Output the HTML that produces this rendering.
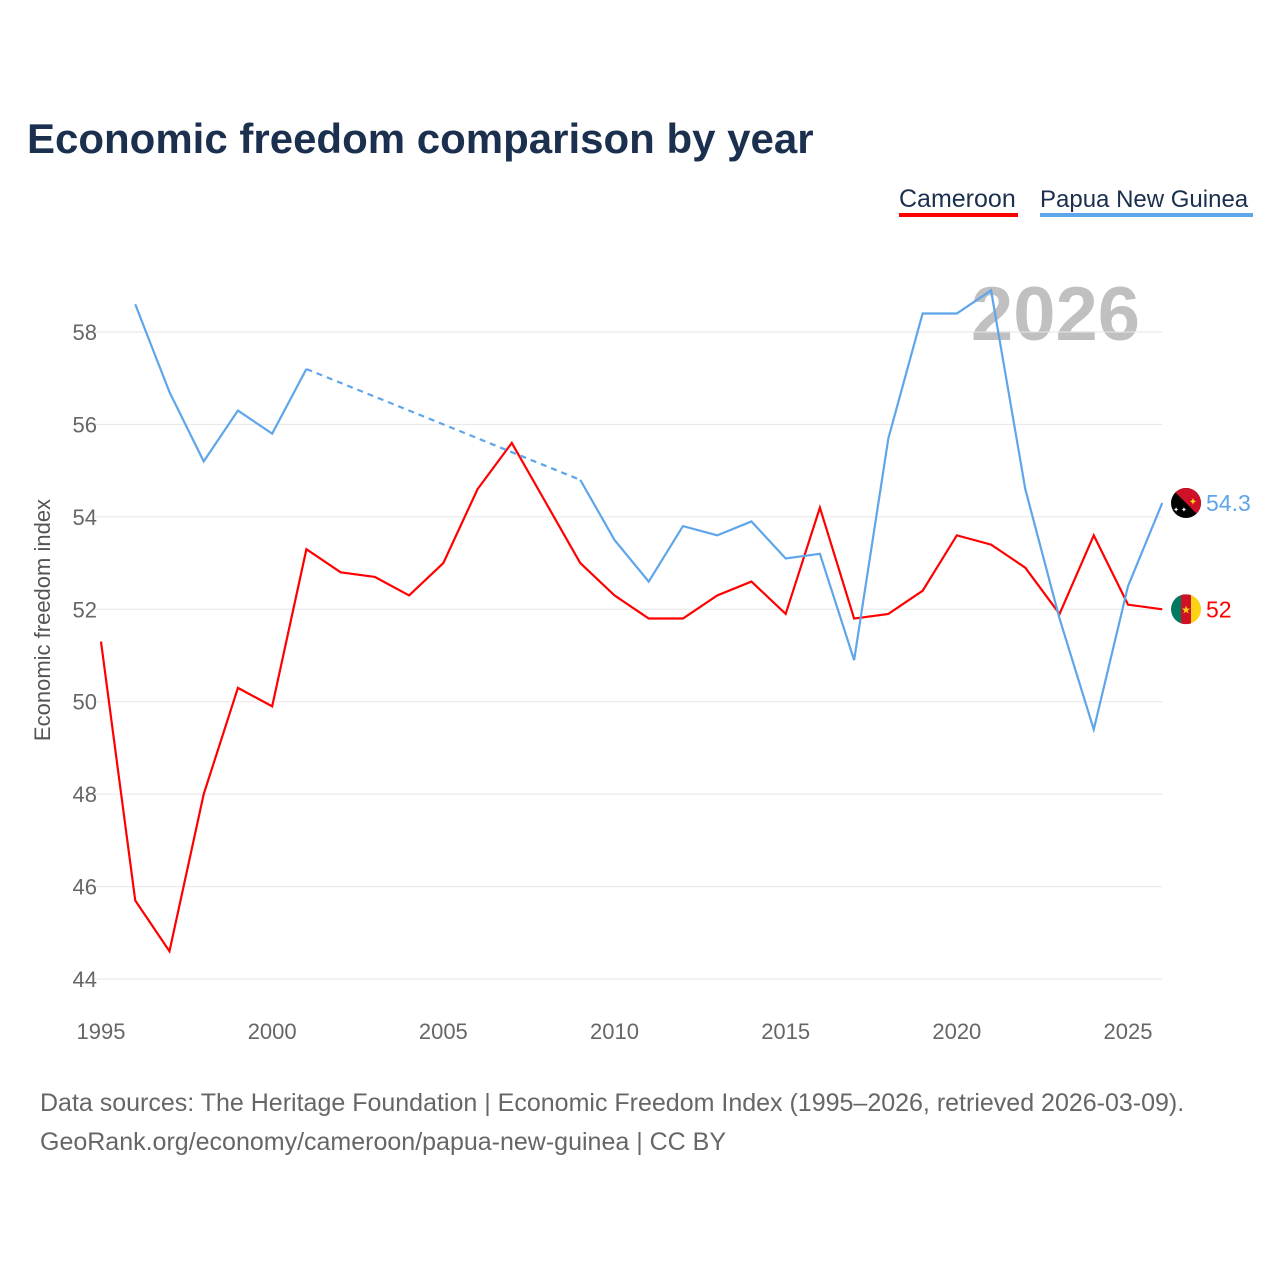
<!DOCTYPE html>
<html><head><meta charset="utf-8"><style>
body{margin:0;background:#fff;width:1280px;height:1280px;overflow:hidden;font-family:"Liberation Sans",sans-serif}
</style></head><body>
<svg width="1280" height="1280" style="position:absolute;left:0;top:0">
<defs>
<clipPath id="c1"><circle id="c1c" cx="1186" cy="0" r="15"/></clipPath>
<clipPath id="c2"><circle id="c2c" cx="1186" cy="0" r="15"/></clipPath>
</defs>
<text x="27" y="153" font-size="42" font-weight="bold" fill="#1b2f4e">Economic freedom comparison by year</text>
<g>
<text x="899" y="207" font-size="25" fill="#1b2f4e">Cameroon</text>
<rect x="899" y="213" width="119" height="4" fill="#ff0000"/>
<text x="1040" y="207" font-size="24" fill="#1b2f4e">Papua New Guinea</text>
<rect x="1040" y="213" width="213" height="4" fill="#5ea5ea"/>
</g>
<text x="1140" y="340" font-size="76" font-weight="bold" fill="#c0c0c0" text-anchor="end">2026</text>
<g id="grid"></g><g id="xt"></g><g id="lines"></g>
<text transform="translate(50,620) rotate(-90)" font-size="22" fill="#555" text-anchor="middle">Economic freedom index</text>
<text x="40" y="1111" font-size="25" fill="#666">Data sources: The Heritage Foundation | Economic Freedom Index (1995–2026, retrieved 2026-03-09).</text>
<text x="40" y="1150" font-size="25" fill="#666">GeoRank.org/economy/cameroon/papua-new-guinea | CC BY</text>
</svg>
<script>
const years=[1995,1996,1997,1998,1999,2000,2001,2002,2003,2004,2005,2006,2007,2008,2009,2010,2011,2012,2013,2014,2015,2016,2017,2018,2019,2020,2021,2022,2023,2024,2025,2026];
const cameroon=[51.3,45.7,44.6,48.0,50.3,49.9,53.3,52.8,52.7,52.3,53.0,54.6,55.6,54.3,53.0,52.3,51.8,51.8,52.3,52.6,51.9,54.2,51.8,51.9,52.4,53.6,53.4,52.9,51.9,53.6,52.1,52.0];
const png=[null,58.6,56.7,55.2,56.3,55.8,57.2,null,null,null,null,null,null,null,54.8,53.5,52.6,53.8,53.6,53.9,53.1,53.2,50.9,55.7,58.4,58.4,58.9,54.6,51.8,49.4,52.5,54.3];
const yTicks=[44,46,48,50,52,54,56,58];
const xTicks=[1995,2000,2005,2010,2015,2020,2025];
const NS='http://www.w3.org/2000/svg';
const X=y=>101+(y-1995)*(1027/30);
const Y=v=>979-(v-44)*(647/14);
function mk(t,a,p){const e=document.createElementNS(NS,t);for(const k in a)e.setAttribute(k,a[k]);p.appendChild(e);return e;}
const grid=document.getElementById('grid'),xt=document.getElementById('xt'),lines=document.getElementById('lines');
yTicks.forEach(v=>{
 const l=mk('line',{x1:95,x2:1162,y1:Y(v),y2:Y(v),stroke:'#e6e6e6','stroke-width':1},grid);
 
 
 const t=mk('text',{x:97,y:Y(v)+8,'font-size':22,fill:'#666','text-anchor':'end'},grid);t.textContent=v;
 
 
});
xTicks.forEach(v=>{
 const t=mk('text',{x:X(v),y:1039,'font-size':22,fill:'#666','text-anchor':'middle'},xt);t.textContent=v;
 
 
});
function series(vals,color,name){
 let segs=[],cur=[],gaps=[],last=null;
 vals.forEach((v,i)=>{
  if(v==null){if(cur.length){segs.push(cur);cur=[];}return;}
  if(last!=null&&last!==i-1)gaps.push([[years[last],vals[last]],[years[i],v]]);
  cur.push([years[i],v]);last=i;
 });
 if(cur.length)segs.push(cur);
 segs.forEach(s=>{
  const p=mk('path',{d:s.map((q,j)=>(j?'L':'M')+X(q[0])+','+Y(q[1])).join(''),fill:'none',stroke:color,'stroke-width':2.2},lines);
  
  
 });
 gaps.forEach(g=>{
  const p=mk('path',{d:'M'+X(g[0][0])+','+Y(g[0][1])+'L'+X(g[1][0])+','+Y(g[1][1]),fill:'none',stroke:color,'stroke-width':2.2,'stroke-dasharray':'6,5'},lines);
  
  
 });
}
series(cameroon,'#ff0000','cameroon');
series(png,'#5ea5ea','png');
const cl=cameroon[cameroon.length-1],pl=png[png.length-1];
const cy=Y(cl),py=Y(pl);
document.getElementById('c1c').setAttribute('cy',cy);
document.getElementById('c2c').setAttribute('cy',py);
let g=mk('g',{'clip-path':'url(#c1)'},lines);


mk('rect',{x:1171,y:cy-15,width:10,height:30,fill:'#007a5e'},g);
mk('rect',{x:1181,y:cy-15,width:10,height:30,fill:'#ce1126'},g);
mk('rect',{x:1191,y:cy-15,width:10,height:30,fill:'#fcd116'},g);
mk('text',{x:1186,y:cy+4,'font-size':11,fill:'#fcd116','text-anchor':'middle'},g).textContent='★';
let g2=mk('g',{'clip-path':'url(#c2)'},lines);


mk('rect',{x:1171,y:py-15,width:30,height:30,fill:'#000'},g2);
mk('path',{d:`M1171,${py-15}L1201,${py-15}L1201,${py+15}Z`,fill:'#ce1126'},g2);
mk('text',{x:1193,y:py+2,'font-size':10,fill:'#fcd116','text-anchor':'middle'},g2).textContent='✦';
mk('text',{x:1180,y:py+9,'font-size':7,fill:'#fff','text-anchor':'middle'},g2).textContent='✦ ✦';
let t1=mk('text',{x:1206,y:cy+8,'font-size':23,fill:'#ff0000'},lines);t1.textContent=cl;


let t2=mk('text',{x:1206,y:py+8,'font-size':23,fill:'#5ea5ea'},lines);t2.textContent=pl;


</script>
</body></html>
